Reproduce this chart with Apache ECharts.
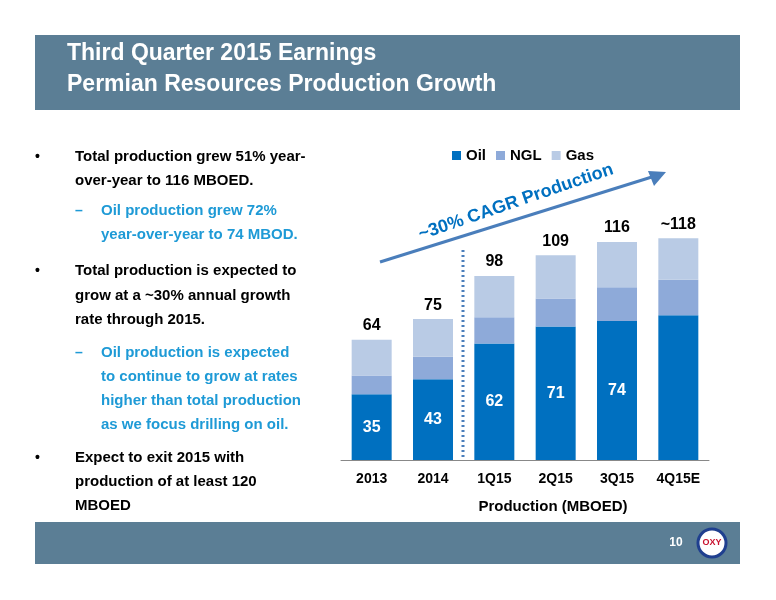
<!DOCTYPE html><html><head><meta charset="utf-8"><script src="https://cdn.jsdelivr.net/npm/echarts@6/dist/echarts.min.js"></script>
<style>html,body{margin:0;background:#fff}#c{width:776px;height:600px}</style></head><body><div id="c"></div><script>
const categories=['2013','2014','1Q15','2Q15','3Q15','4Q15E'];
const oil=[35,43,62,71,74,77];
const ngl=[10,12,14,15,18,19];
const gas=[19,20,22,23,24,22];
const totals=['64','75','98','109','116','~118'];
const oilLabels=['35','43','62','71','74',''];
const F='Liberation Sans, Arial, sans-serif';
const lines=[
['•',157,'Total production grew 51% year-',0],['',181,'over-year to 116 MBOED.',0],
['–',211,'Oil production grew 72%',1],['',235,'year-over-year to 74 MBOD.',1],
['•',271,'Total production is expected to',0],['',296,'grow at a ~30% annual growth',0],['',320,'rate through 2015.',0],
['–',353,'Oil production is expected',1],['',377,'to continue to grow at rates',1],['',401,'higher than total production',1],['',425,'as we focus drilling on oil.',1],
['•',458,'Expect to exit 2015 with',0],['',482,'production of at least 120',0],['',506,'MBOED',0]];
const g=[
{type:'rect',shape:{x:35,y:35,width:705,height:75},style:{fill:'#5b7e95'}},
{type:'text',x:67,y:38,style:{text:'Third Quarter 2015 Earnings\nPermian Resources Production Growth',fill:'#fff',font:'bold 23px '+F,lineHeight:31}},
{type:'rect',shape:{x:35,y:522,width:705,height:42},style:{fill:'#5b7e95'}},
{type:'text',x:676,y:543,style:{text:'10',fill:'#fff',font:'bold 12px '+F,align:'center',verticalAlign:'middle'}},
{type:'circle',shape:{cx:712,cy:543,r:14},style:{fill:'#fff',stroke:'#1f3f8f',lineWidth:3}},
{type:'text',x:712,y:543,style:{text:'OXY',fill:'#c8102e',font:'bold 9px '+F,align:'center',verticalAlign:'middle'}},
{type:'line',shape:{x1:463,y1:250,x2:463,y2:460},style:{stroke:'#4a7ebb',lineWidth:3,lineDash:[2,3]}},
{type:'line',shape:{x1:380,y1:262,x2:655,y2:176},style:{stroke:'#4a7ebb',lineWidth:3}},
{type:'polygon',shape:{points:[[666,172],[648,171],[654,186]]},style:{fill:'#4a7ebb'}},
{type:'text',x:516,y:202,rotation:0.33,style:{text:'~30% CAGR Production',fill:'#0070c0',font:'bold 18px '+F,align:'center',verticalAlign:'middle'}},
{type:'text',x:553,y:507,style:{text:'Production (MBOED)',fill:'#000',font:'bold 15px '+F,align:'center',verticalAlign:'middle'}}
];
lines.forEach(l=>{const x0=l[3]?75:35,x1=l[3]?101:75,c=l[3]?'#1e9ad6':'#000';
 if(l[0])g.push({type:'text',x:x0,y:l[1],style:{text:l[0],fill:c,font:'bold 14px '+F,verticalAlign:'middle'}});
 g.push({type:'text',x:x1,y:l[1],style:{text:l[2],fill:c,font:'bold 15px '+F,verticalAlign:'middle'}});});
const chart=echarts.init(document.getElementById('c'));
chart.setOption({animation:false,graphic:g,
legend:{top:143,left:447,itemWidth:9,itemHeight:9,itemGap:10,icon:'rect',textStyle:{fontFamily:F,fontSize:15,fontWeight:'bold',color:'#000'}},
grid:{left:341,right:67,top:197,bottom:140},
xAxis:{type:'category',data:categories,axisTick:{show:false},axisLine:{lineStyle:{color:'#888'}},axisLabel:{fontFamily:F,fontSize:14,fontWeight:'bold',color:'#000',margin:12}},
yAxis:{type:'value',min:0,max:140,show:false,splitLine:{show:false}},
series:[
{name:'Oil',type:'bar',stack:'s',data:oil,barWidth:40,itemStyle:{color:'#0070c0'},label:{show:true,position:'inside',formatter:p=>oilLabels[p.dataIndex],color:'#fff',fontFamily:F,fontSize:16,fontWeight:'bold'}},
{name:'NGL',type:'bar',stack:'s',data:ngl,itemStyle:{color:'#8eaad9'}},
{name:'Gas',type:'bar',stack:'s',data:gas,itemStyle:{color:'#b9cbe5'},label:{show:true,position:'top',distance:6,formatter:p=>totals[p.dataIndex],color:'#000',fontFamily:F,fontSize:16,fontWeight:'bold'}}
]});
</script></body></html>
